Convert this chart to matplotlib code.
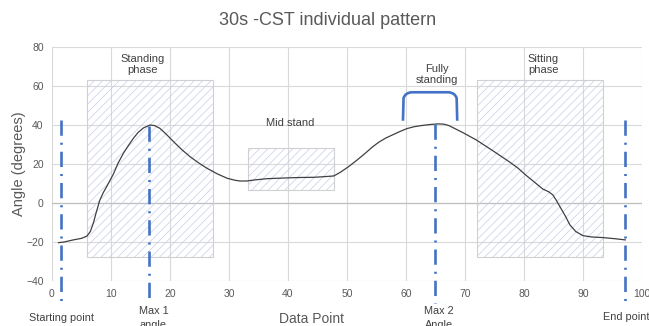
import matplotlib
matplotlib.use("Agg")
import matplotlib.pyplot as plt
from matplotlib.patches import Rectangle, PathPatch
from matplotlib.path import Path

plt.rcParams["font.family"] = ["Liberation Sans", "DejaVu Sans"]
plt.rcParams["hatch.linewidth"] = 0.5
plt.rcParams["lines.scale_dashes"] = False

# Angle trace
point = [1.1, 2, 3.6, 5, 5.9, 6.5, 7.0, 7.5, 8.1, 8.7, 9.3, 10.4, 11.2, 12.1, 13,
         13.8, 14.6, 15.5, 16.6, 17.4, 18.3, 19.4, 20.6, 22, 23.4, 24.8, 26.3, 28,
         29.7, 31, 31.9, 33, 34.2, 36.5, 39.9, 42, 44.4, 46, 47.8, 49, 50.3, 51.7,
         53.1, 54.3, 55.4, 56.5, 57.7, 59, 60.2, 61.5, 62.8, 64.2, 65.6, 66.5, 67.3,
         69.6, 71.9, 74.7, 77.5, 79, 80.3, 81.8, 83.2, 84.2, 84.9, 85.5, 86.1, 87,
         87.8, 88.8, 90, 91.5, 93.4, 95.5, 97.2]
angle = [-20.5, -20.2, -19.1, -18.3, -17.2, -14.8, -10.6, -5.0, 1.2, 5.2, 8.4, 14.6,
         20.2, 25.3, 29.5, 33, 36, 38.3, 39.8, 39.5, 38.1, 35, 31.3, 27.2, 23.6, 20.5,
         17.6, 14.8, 12.5, 11.5, 11.1, 11.1, 11.6, 12.3, 12.7, 12.9, 13, 13.3, 13.7,
         15.8, 18.5, 21.8, 25.3, 28.5, 31.0, 33.0, 34.7, 36.5, 38.0, 39.0, 39.6, 40.1,
         40.4, 40.2, 39.5, 36, 32.2, 26.7, 21, 17.7, 14.2, 10.5, 7.0, 5.6, 4.0, 1.2,
         -2, -6.7, -11.4, -14.8, -16.9, -17.6, -17.9, -18.5, -19.1]

# Phase boxes
phase_names = ["Standing\nphase", "Mid stand", "Sitting\nphase"]
phase_x0 = [6.0, 33.2, 72.0]
phase_x1 = [27.3, 47.8, 93.4]
phase_y0 = [-28, 6.5, -28]
phase_y1 = [62.7, 28.2, 62.7]
phase_lx = [15.4, 40.3, 83.3]
phase_ly = [71, 40.7, 71]

# Event markers
event_x = [1.5, 16.5, 64.9, 97.2]
event_top = [42.4, 39.5, 40.2, 42.4]
event_bottom = -51.5
event_names = ["Starting point", "Max 1\nangle", "Max 2\nAngle", "End point"]
event_lx = [1.65, 17.2, 65.6, 97.3]
event_ly = [-59, -52.8, -52.8, -58.5]

# Fully standing bracket
bracket_x = [59.5, 68.7]
bracket_low, bracket_high = 42, 56.6

blue = "#4472C4"
grey_text = "#595959"
dark_text = "#404040"

fig = plt.figure(figsize=(6.49, 3.26), dpi=100)
ax = fig.add_axes([0.0801, 0.139, 0.9089, 0.718])

ax.set_xlim(0, 100)
ax.set_ylim(-40, 80)
ax.set_xticks(range(0, 101, 10))
ax.set_yticks(range(-40, 81, 20))
ax.grid(True, color="#D9D9D9", linewidth=0.8)
ax.set_axisbelow(True)
for s in ax.spines.values():
    s.set_visible(False)
ax.tick_params(length=0, labelsize=7.5, labelcolor=grey_text, pad=6)
ax.axhline(0, color="#BFBFBF", linewidth=0.9, zorder=1)

for x0, x1, y0, y1, name, lx, ly in zip(phase_x0, phase_x1, phase_y0, phase_y1,
                                         phase_names, phase_lx, phase_ly):
    ax.add_patch(Rectangle((x0, y0), x1 - x0, y1 - y0, facecolor="none",
                           edgecolor="#C5CFE8", hatch="////", linewidth=0, zorder=2))
    ax.add_patch(Rectangle((x0, y0), x1 - x0, y1 - y0, facecolor="none",
                           edgecolor="#D0D0D0", linewidth=0.8, zorder=2))
    ax.text(lx, ly, name, ha="center", va="center", fontsize=8,
            color=dark_text, linespacing=1.1)

ax.plot(point, angle, color="#404040", linewidth=0.9, zorder=4)

for x, top, name, lx, ly in zip(event_x, event_top, event_names, event_lx, event_ly):
    ax.plot([x, x], [top, event_bottom], color=blue, linewidth=1.9,
            dashes=(11, 5, 1.5, 5), clip_on=False, zorder=5)
    ax.text(lx, ly, name, ha="center", va="top" if "\n" in name else "center",
            fontsize=7.8, color=dark_text, clip_on=False, linespacing=1.5)

bx0, bx1 = bracket_x
bracket = Path(
    [(bx0, bracket_low), (bx0 + 0.1, bracket_high - 3), (bx0 + 0.4, bracket_high - 0.2),
     (bx0 + 1.5, bracket_high), (bx1 - 1.5, bracket_high),
     (bx1 - 0.4, bracket_high - 0.2), (bx1 - 0.1, bracket_high - 3), (bx1, bracket_low)],
    [Path.MOVETO, Path.LINETO, Path.CURVE3, Path.CURVE3, Path.LINETO,
     Path.CURVE3, Path.CURVE3, Path.LINETO])
ax.add_patch(PathPatch(bracket, facecolor="none", edgecolor=blue, linewidth=1.9, zorder=5))
ax.text(65.3, 65.6, "Fully\nstanding", ha="center", va="center", fontsize=8,
        color=dark_text, linespacing=1.1)

ax.set_ylabel("Angle (degrees)", fontsize=10.5, color=grey_text, labelpad=0)
fig.text(311.7 / 649, 1 - 319 / 326, "Data Point", ha="center", va="center",
         fontsize=10, color=grey_text)
fig.text(0.505, 0.938, "30s -CST individual pattern", ha="center", va="center",
         fontsize=13, color=grey_text)

fig.savefig("out.png", dpi=100)
